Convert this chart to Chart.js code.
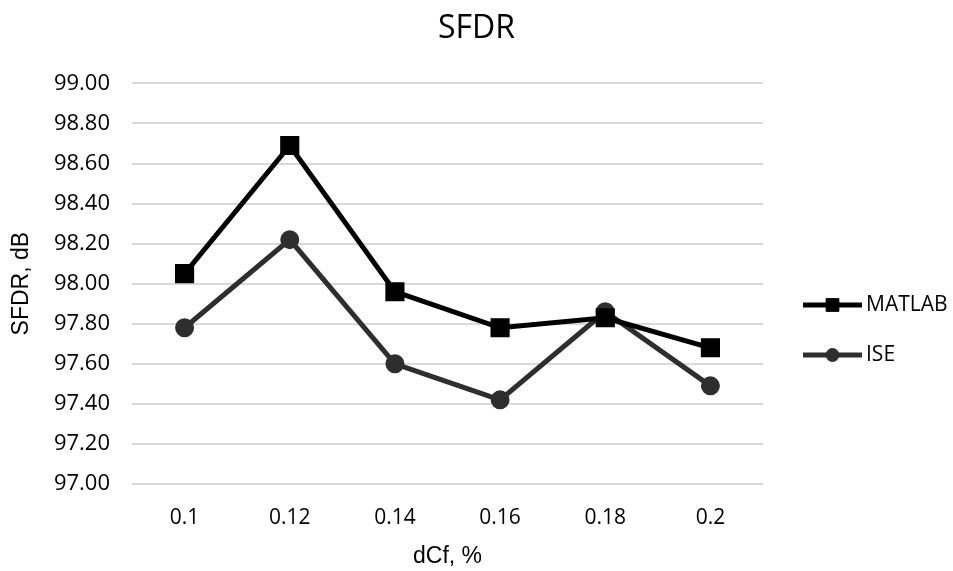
<!DOCTYPE html>
<html lang="en">
<head>
    <meta charset="UTF-8">
    <title>SFDR</title>
    <script src="https://cdn.jsdelivr.net/npm/chart.js"></script>
    <style>
        html, body { margin: 0; padding: 0; background: #fff; }
        #grafico { width: 953px; height: 571px; }
    </style>
</head>
<body>
    <div id="grafico">
        <canvas id="sfdrCanvas"></canvas>
    </div>

<script>
    // dCf, % values along the x axis
    const categorias = ['0.1', '0.12', '0.14', '0.16', '0.18', '0.2'];

    // SFDR in dB for each tool
    const matlab = [98.05, 98.69, 97.96, 97.78, 97.83, 97.68];
    const ise = [97.78, 98.22, 97.60, 97.42, 97.86, 97.49];

    // y axis range and step
    const yMin = 97.0;
    const yMax = 99.0;
    const yStep = 0.2;

    // legend on the right, drawn by hand so it sits where we want
    const legendaManual = {
        id: 'legendaManual',
        afterLayout(chart) {
            // centre the title on the whole canvas, not only the padded area
            const t = chart.titleBlock;
            t.left = 0;
            t.right = chart.width;
            t.width = chart.width;
        },
        afterDraw(chart) {
            const ctx = chart.ctx;
            const linhas = [305, 355];
            const tamanhos = [9, 6.5];
            chart.data.datasets.forEach(function (ds, i) {
                const y = linhas[i];
                const x0 = 803, x1 = 862, xm = (x0 + x1) / 2;
                ctx.save();
                ctx.strokeStyle = ds.borderColor;
                ctx.lineWidth = ds.borderWidth;
                ctx.beginPath();
                ctx.moveTo(x0, y);
                ctx.lineTo(x1, y);
                ctx.stroke();
                ctx.fillStyle = ds.pointBackgroundColor;
                ctx.lineWidth = 1;
                Chart.helpers.drawPoint(ctx, {
                    pointStyle: ds.pointStyle,
                    radius: tamanhos[i],
                    borderWidth: 1
                }, xm, y);
                ctx.fillStyle = '#000';
                ctx.font = '21px "Open Sans"';
                ctx.textBaseline = 'middle';
                ctx.textAlign = 'left';
                ctx.fillText(ds.label, 866, y);
                ctx.restore();
            });
        }
    };

    const dados = {
        labels: categorias,
        datasets: [{
            label: 'MATLAB',
            data: matlab,
            borderColor: '#000000',
            backgroundColor: '#000000',
            pointBackgroundColor: '#000000',
            pointBorderColor: '#000000',
            borderWidth: 5,
            pointStyle: 'rect',
            pointRadius: 10,
            tension: 0
        }, {
            label: 'ISE',
            data: ise,
            borderColor: '#2e2e2e',
            backgroundColor: '#2e2e2e',
            pointBackgroundColor: '#2e2e2e',
            pointBorderColor: '#2e2e2e',
            borderWidth: 5,
            pointStyle: 'circle',
            pointRadius: 7,
            tension: 0
        }]
    };

    const config = {
        type: 'line',
        data: dados,
        plugins: [legendaManual],
        options: {
            responsive: true,
            maintainAspectRatio: false,
            animation: false,
            layout: { padding: { left: 0, right: 190, top: 0, bottom: 0 } },
            plugins: {
                legend: { display: false },
                tooltip: { enabled: false },
                title: {
                    display: true,
                    text: 'SFDR',
                    color: '#000',
                    font: { family: '"Open Sans"', size: 32, weight: 'normal' },
                    padding: { top: 10, bottom: 35 }
                }
            },
            scales: {
                x: {
                    offset: true,
                    grid: { display: false, drawTicks: false },
                    border: { display: false },
                    ticks: {
                        color: '#000',
                        padding: 21,
                        font: { family: '"Open Sans"', size: 21 }
                    },
                    title: {
                        display: true,
                        text: 'dCf, %',
                        color: '#000',
                        font: { family: '"Liberation Sans"', size: 23 },
                        padding: { top: 0, bottom: 1 }
                    },
                    afterFit(scale) { scale.height = 87; }
                },
                y: {
                    min: yMin,
                    max: yMax,
                    grid: { color: '#d9d9d9', lineWidth: 2, drawTicks: false },
                    border: { display: false },
                    ticks: {
                        stepSize: yStep,
                        color: '#000',
                        padding: 22,
                        font: { family: '"Open Sans"', size: 22 },
                        callback: function (v) { return Number(v).toFixed(2); }
                    },
                    title: {
                        display: true,
                        text: 'SFDR, dB',
                        color: '#000',
                        font: { family: '"Liberation Sans"', size: 23 },
                        padding: { top: 8, bottom: 0 }
                    },
                    afterFit(scale) { scale.width = 132; }
                }
            }
        }
    };

    let myChart = new Chart(
        document.getElementById('sfdrCanvas'),
        config
    );
</script>
</body>
</html>
